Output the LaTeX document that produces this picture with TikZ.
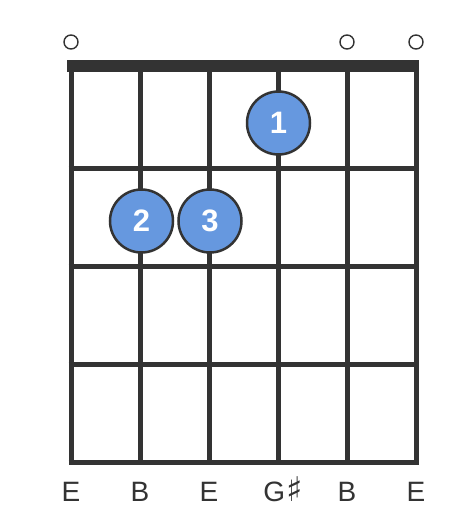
\documentclass[tikz,border=0pt]{standalone}
\usepackage{fontspec}
\setmainfont{Liberation Sans}
\newfontfamily\symfont{DejaVu Sans}
\definecolor{grid}{HTML}{333333}
\definecolor{dotblue}{HTML}{6698DF}
\begin{document}
\begin{tikzpicture}[x=1pt,y=-1pt,
  gridline/.style={draw=grid,line width=5pt},
  fingerdot/.style={circle,draw=grid,line width=2.5pt,fill=dotblue,minimum size=63pt,inner sep=0pt,text=white,font=\fontsize{31}{31}\selectfont\bfseries},
  opendot/.style={circle,draw=grid,line width=1.4pt,minimum size=14pt,inner sep=0pt},
  notelabel/.style={text=grid,font=\fontsize{28}{28}\selectfont,anchor=base}]
\useasboundingbox (0,0) rectangle (473,512);
\fill[white] (0,0) rectangle (473,512);
% strings
\foreach \i in {0,...,5}{
  \draw[gridline] ({71+69*\i},65) -- ({71+69*\i},464.5);
}
% frets
\foreach \y in {168,266,364,462}{
  \draw[gridline] (68.5,\y) -- (418.5,\y);
}
% nut
\fill[grid] (67,60) rectangle (418.5,71.5);
% open strings
\node[opendot] (o1) at (71,42) {};
\node[opendot] (o5) at (347,42) {};
\node[opendot] (o6) at (416,42) {};
% finger dots
\node[fingerdot] (f1) at (278.5,123) {1};
\node[fingerdot] (f2) at (141.5,221) {2};
\node[fingerdot] (f3) at (210,221) {3};
% labels
\node[notelabel] (l1) at (71,501) {E};
\node[notelabel] (l2) at (140,501) {B};
\node[notelabel] (l3) at (209,501) {E};
\node[notelabel] (l4) at (283,501) {G\kern1pt{\symfont\fontsize{34}{34}\selectfont ♯}};
\node[notelabel] (l5) at (347,501) {B};
\node[notelabel] (l6) at (416,501) {E};
\end{tikzpicture}
\end{document}
